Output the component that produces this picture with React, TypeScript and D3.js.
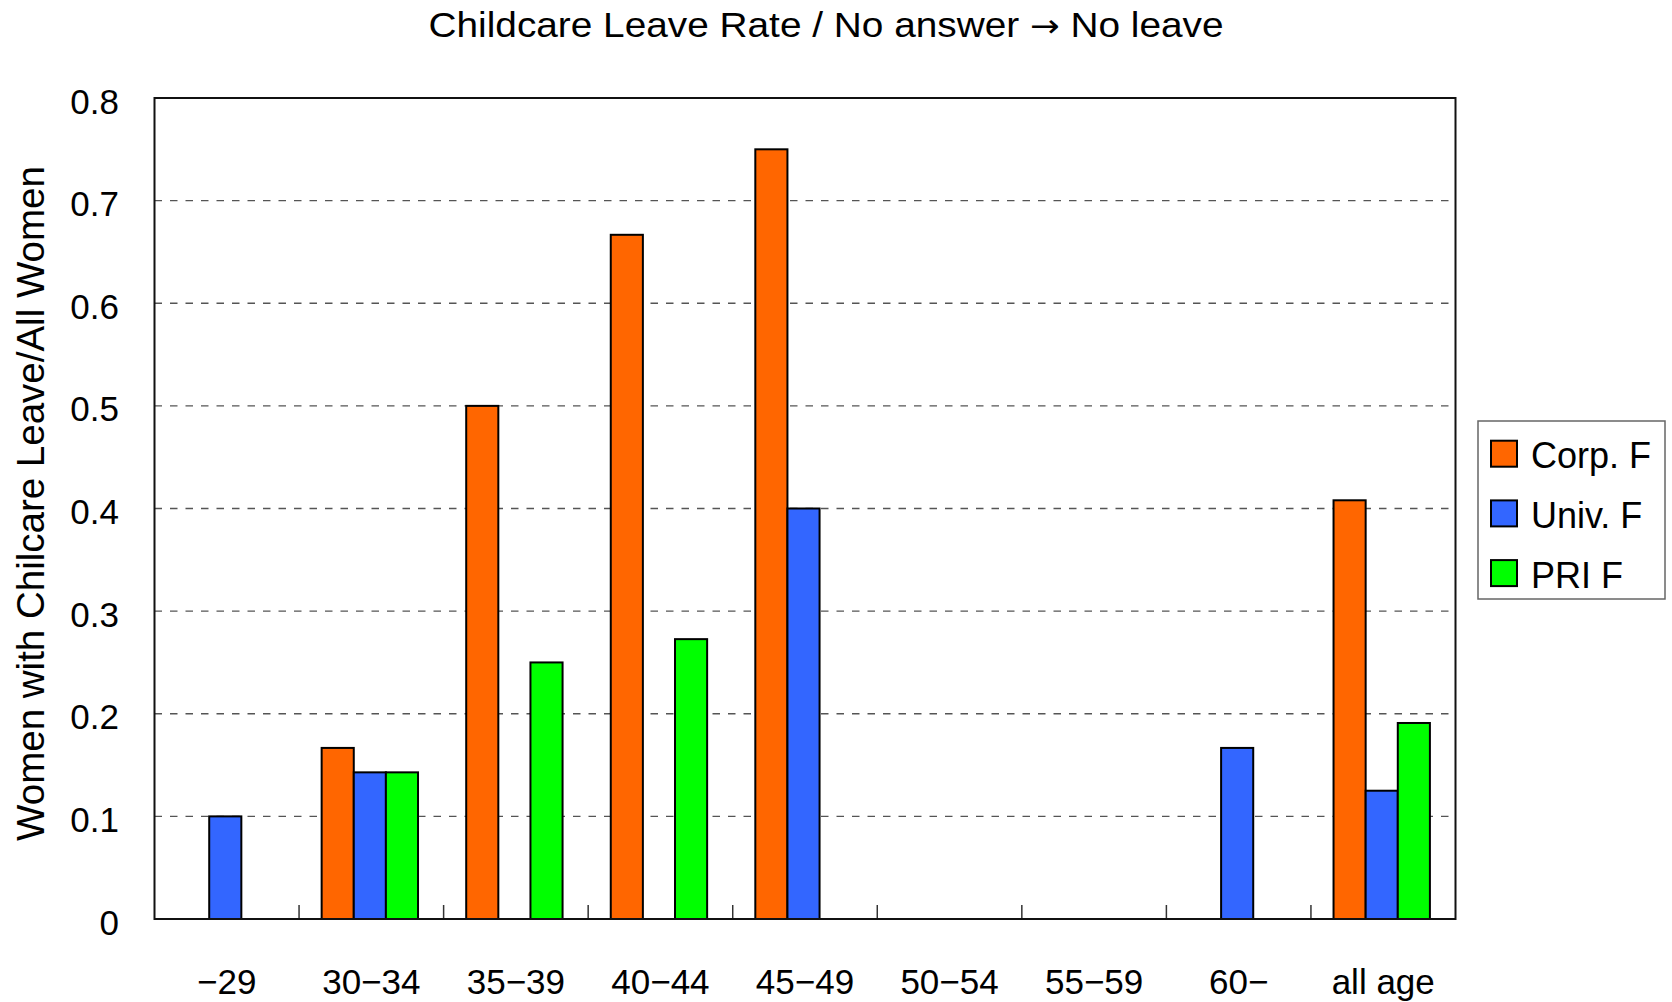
import React from "react";
import * as d3 from "d3";

// Age groups and the share of women who took childcare leave, per sector
const categories = ["−29", "30−34", "35−39", "40−44", "45−49", "50−54", "55−59", "60−", "all age"];
const corpF = [0, 0.1667, 0.5, 0.6667, 0.75, 0, 0, 0, 0.408];
const univF = [0.1, 0.1429, 0, 0, 0.4, 0, 0, 0.1667, 0.125];
const priF = [0, 0.1429, 0.25, 0.2727, 0, 0, 0, 0, 0.191];

const seriesNames = ["Corp. F", "Univ. F", "PRI F"];
const seriesColors = ["#FF6600", "#3366FF", "#00FF00"];
const yTicks = [0, 0.1, 0.2, 0.3, 0.4, 0.5, 0.6, 0.7, 0.8];

const titleStart = "Childcare Leave Rate / No answer ";
const titleArrow = "→";
const titleEnd = " No leave";
const yLabel = "Women with Chilcare Leave/All Women";

const W = 1672;
const H = 1002;
const plot = { left: 154.5, right: 1455.5, top: 98, bottom: 919 };
const FONT = "'Liberation Sans', Arial, Helvetica, sans-serif";
const ARROW_FONT = "'DejaVu Sans', sans-serif";

export default function App() {
  const series = [corpF, univF, priF];

  const x = d3
    .scaleBand<string>()
    .domain(categories)
    .range([plot.left, plot.right])
    .paddingInner(0)
    .paddingOuter(0);

  const xInner = d3
    .scaleBand<string>()
    .domain(seriesNames)
    .range([0, x.bandwidth()])
    .paddingInner(0)
    .paddingOuter(0.75);

  const y = d3.scaleLinear().domain([0, 0.8]).range([plot.bottom, plot.top]);

  const bars: { key: string; x: number; y: number; w: number; h: number; fill: string }[] = [];
  categories.forEach((cat, ci) => {
    series.forEach((vals, si) => {
      const v = vals[ci];
      if (v <= 0) return;
      const bx = (x(cat) as number) + (xInner(seriesNames[si]) as number) - 1.5;
      bars.push({
        key: `${cat}-${si}`,
        x: bx,
        y: y(v),
        w: xInner.bandwidth(),
        h: y(0) - y(v),
        fill: seriesColors[si],
      });
    });
  });

  // Category boundary ticks along the base of the plot
  const boundaries = categories.slice(1).map((c) => x(c) as number);

  const legend = { x: 1478, y: 421, w: 187, h: 178 };

  return (
    <svg
      width={W}
      height={H}
      viewBox={`0 0 ${W} ${H}`}
      style={{ position: "absolute", left: 0, top: 0, background: "#fff" }}
    >
      <rect x={0} y={0} width={W} height={H} fill="#fff" />

      {/* title */}
      <text
        x={826}
        y={37}
        textAnchor="middle"
        fontFamily={FONT}
        fontSize={35}
        fill="#000"
        textLength={795}
        lengthAdjust="spacingAndGlyphs"
      >
        {titleStart}
        <tspan fontFamily={ARROW_FONT} fontSize={32}>{titleArrow}</tspan>
        {titleEnd}
      </text>

      {/* dashed gridlines */}
      {yTicks
        .filter((t) => t > 0 && t < 0.8)
        .map((t) => (
          <line
            key={`g${t}`}
            x1={plot.left}
            x2={plot.right}
            y1={y(t)}
            y2={y(t)}
            stroke="#555"
            strokeWidth={1.3}
            strokeDasharray="7.5 8"
          />
        ))}

      {/* bars */}
      {bars.map((b) => (
        <rect
          key={b.key}
          x={b.x}
          y={b.y}
          width={b.w}
          height={b.h}
          fill={b.fill}
          stroke="#000"
          strokeWidth={2}
        />
      ))}

      {/* category ticks */}
      {boundaries.map((bx, i) => (
        <line
          key={`t${i}`}
          x1={bx}
          x2={bx}
          y1={plot.bottom}
          y2={plot.bottom - 14}
          stroke="#333"
          strokeWidth={1.5}
        />
      ))}

      {/* plot frame */}
      <rect
        x={plot.left}
        y={plot.top}
        width={plot.right - plot.left}
        height={plot.bottom - plot.top}
        fill="none"
        stroke="#111"
        strokeWidth={2}
      />

      {/* y tick labels */}
      {yTicks.map((t) => (
        <text
          key={`yl${t}`}
          x={119}
          y={y(t) + 3}
          textAnchor="end"
          dominantBaseline="central"
          fontFamily={FONT}
          fontSize={35}
          fill="#000"
        >
          {d3.format("")(t)}
        </text>
      ))}

      {/* x labels */}
      {categories.map((c) => (
        <text
          key={`xl${c}`}
          x={(x(c) as number) + x.bandwidth() / 2}
          y={994}
          textAnchor="middle"
          fontFamily={FONT}
          fontSize={35}
          fill="#000"
        >
          {c}
        </text>
      ))}

      {/* y axis title */}
      <text
        transform={`translate(44, ${(plot.top + plot.bottom) / 2 - 5}) rotate(-90)`}
        textAnchor="middle"
        fontFamily={FONT}
        fontSize={38.5}
        fill="#000"
      >
        {yLabel}
      </text>

      {/* legend */}
      <rect
        x={legend.x}
        y={legend.y}
        width={legend.w}
        height={legend.h}
        fill="#fff"
        stroke="#666"
        strokeWidth={1.5}
      />
      {seriesNames.map((name, i) => {
        const cy = 453.7 + i * 59.7;
        return (
          <g key={`lg${name}`}>
            <rect
              x={1491}
              y={cy - 13}
              width={26}
              height={26}
              fill={seriesColors[i]}
              stroke="#000"
              strokeWidth={2}
            />
            <text
              x={1531}
              y={cy + 2}
              dominantBaseline="central"
              fontFamily={FONT}
              fontSize={36}
              fill="#000"
            >
              {name}
            </text>
          </g>
        );
      })}
    </svg>
  );
}
